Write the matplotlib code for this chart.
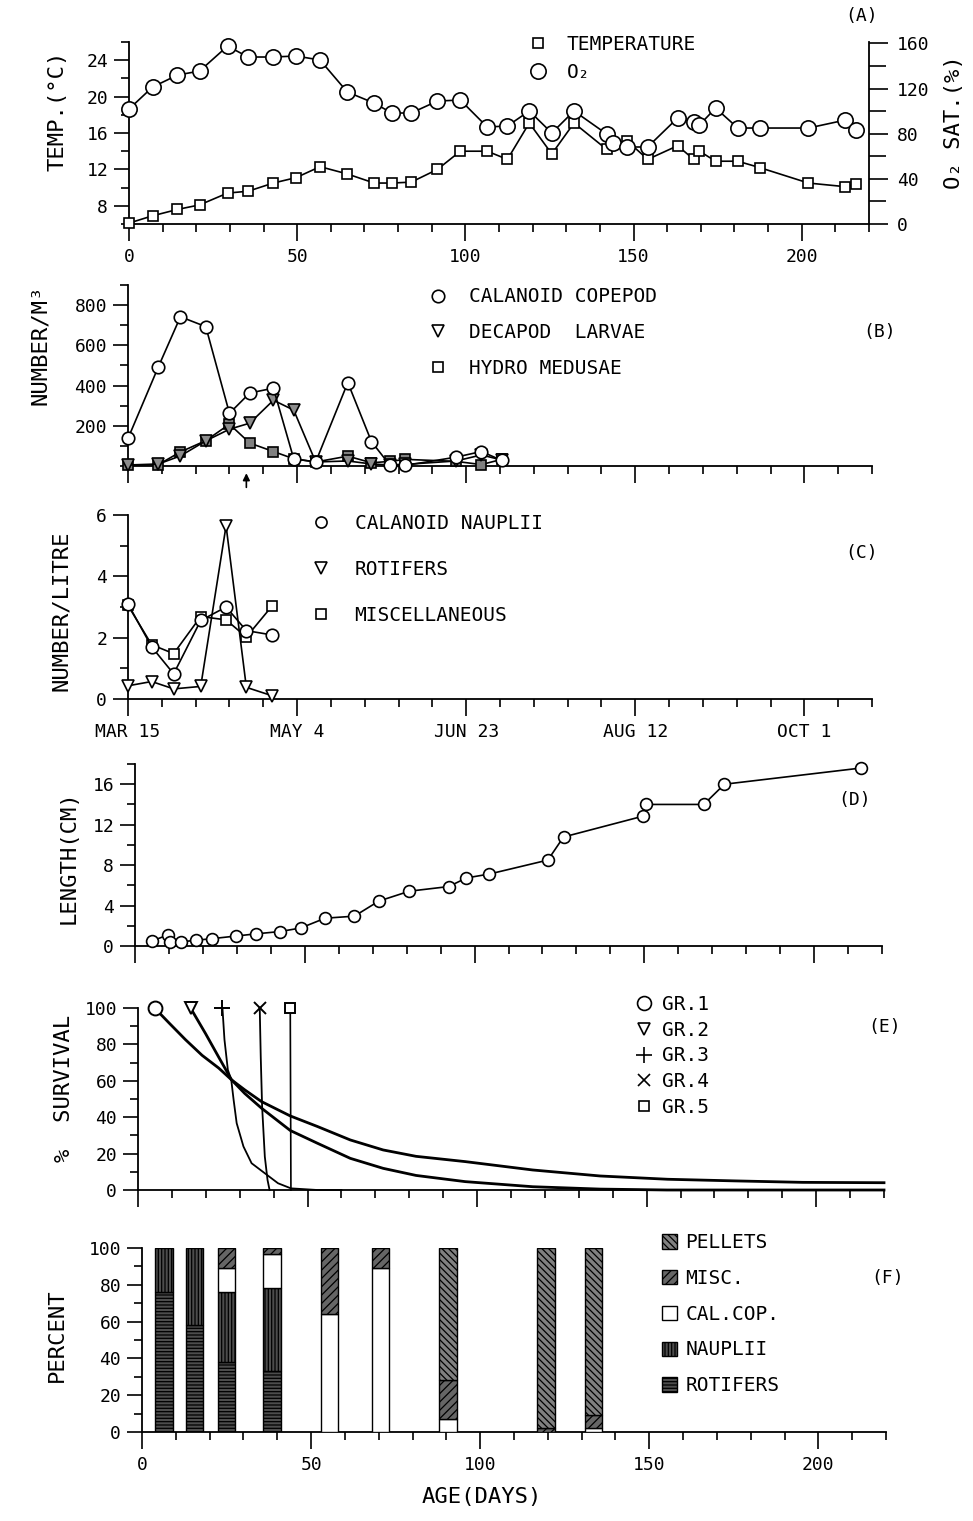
import numpy as np
import matplotlib
matplotlib.use('Agg')
import matplotlib.pyplot as plt
from matplotlib.ticker import MultipleLocator, FixedLocator
from matplotlib.patches import Patch
from matplotlib.lines import Line2D

plt.rcParams['font.family'] = ['DejaVu Sans Mono', 'DejaVu Sans']
plt.rcParams['hatch.linewidth'] = 0.9
plt.rcParams['axes.linewidth'] = 1.3

# ---------------- DATA ----------------
# (A) temperature and O2 saturation
a_days = [0, 7, 14.4, 21, 29.3, 35.4, 42.9, 49.7, 56.8, 64.9, 72.9, 78.1, 83.9, 91.7,
          98.5, 106.5, 112.5, 119, 125.7, 132.3, 142, 144, 148.2, 154.2, 163.1, 167.9,
          169.6, 174.4, 181, 187.5, 202, 213, 216]
a_temp = [6.1, 6.9, 7.6, 8.1, 9.4, 9.6, 10.5, 11.1, 12.3, 11.5, 10.5, 10.5, 10.6, 12.0,
          14.0, 14.0, 13.1, 17.1, 13.7, 17.1, 14.2, 14.9, 15.1, 13.1, 14.6, 13.1,
          14.0, 12.9, 12.9, 12.2, 10.5, 10.1, 10.4]
a_o2 = [101.8, 121.3, 131.9, 135.5, 157.6, 147.9, 147.9, 148.8, 145.2, 116.9, 107.1, 98.3,
        98.3, 108.9, 109.8, 85.9, 86.8, 100.1, 80.6, 100.1, 79.7, 71.7, 68.2, 68.2, 93.9,
        90.3, 87.7, 102.7, 85.0, 85.0, 85.0, 92.1, 83.2]

# (B) zooplankton number / m3
b_days = [0, 9, 15.5, 23, 30, 36, 43, 49, 55.5, 65, 72, 77.5, 82, 97, 104.5, 110.5]
b_copepod = [137, 494, 742, 693, 262, 363, 387, 36, 20, 415, 121, 3, 3, 44, 72, 28]
b_decapod = [5, 10, 50, 125, 183, 213, 327, 278, 20, 25, 10, 5, 8, 25, 55, 30]
b_hydro = [3, 7, 70, 126, 208, 114, 72, 36, 20, 49, 16, 23, 33, 23, 7, 33]
b_arrow_day = 35

# (C) number / litre
c_days = [0, 7, 13.5, 21.5, 29, 35, 42.5]
c_nauplii = [3.1, 1.7, 0.82, 2.56, 3.0, 2.23, 2.09]
c_rotifers = [0.43, 0.57, 0.33, 0.41, 5.65, 0.38, 0.11]
c_misc = [3.05, 1.77, 1.48, 2.69, 2.58, 2.02, 3.02]
c_date_labels = ['MAR 15', 'MAY 4', 'JUN 23', 'AUG 12', 'OCT 1']

# (D) length (cm)
d_days = [4.9, 9.7, 10.2, 13.6, 18, 22.8, 29.6, 35.6, 42.7, 48.8, 56, 64.6, 71.8, 80.8,
          92.4, 97.6, 104.4, 121.6, 126.2, 149.6, 150.6, 167.5, 173.6, 213.8]
d_length = [0.48, 1.1, 0.41, 0.41, 0.57, 0.73, 0.98, 1.2, 1.43, 1.78, 2.75, 2.95, 4.44,
            5.42, 5.88, 6.73, 7.12, 8.5, 10.78, 12.84, 14.0, 14.0, 16.0, 17.6]

# (E) % survival of groups
e_gr1_days = [4.9, 9.2, 14, 18.9, 23.8, 27.6, 31.5, 36.4, 44.9, 52.9, 62.6, 72.3, 82,
              96.5, 116.4, 136.3, 156.2, 176.1, 196, 220]
e_gr1_pct = [100, 91.7, 82.6, 74, 67, 60.5, 55, 48.6, 40.7, 34.9, 27.5, 22, 18.5,
             15.6, 11, 7.7, 5.9, 5, 4.2, 4]
e_gr2_days = [15.5, 19.9, 23.8, 27.6, 31.5, 36.4, 44.9, 52.9, 62.6, 72.3, 82, 96.5,
              116.4, 136.3, 156, 220]
e_gr2_pct = [100, 86, 73, 60.5, 53, 45, 32.7, 25.7, 17.4, 11.9, 8, 4.6, 1.8, 0.5, 0, 0]
e_gr3_days = [24.9, 25.5, 26.5, 27.5, 28.2, 29.1, 31.1, 33.5, 37.4, 41.3, 45.1, 52.9, 60]
e_gr3_pct = [100, 82.6, 66, 60.5, 49.5, 36.7, 23.9, 14.7, 9.2, 3.7, 0.9, 0, 0]
e_gr4_days = [35.9, 36.2, 36.6, 37.4, 38.2, 38.8]
e_gr4_pct = [100, 73, 45.9, 18.3, 5.5, 0]
e_gr5_days = [44.9, 45.1]
e_gr5_pct = [100, 0]

# (F) stomach contents, percent
f_days = [6.5, 15.5, 25, 38.5, 55.5, 70.5, 90.5, 119.5, 133.5]
f_rotifers = [76, 58, 38, 33, 0, 0, 0, 0, 0]
f_nauplii = [24, 42, 38, 45, 0, 0, 0, 0, 0]
f_calcop = [0, 0, 13, 19, 64, 89, 7, 0, 2]
f_misc = [0, 0, 11, 3, 36, 11, 21, 2, 7]
f_pellets = [0, 0, 0, 0, 0, 0, 72, 98, 91]

# ---------------- LAYOUT ----------------
W, H = 973, 1521
fig = plt.figure(figsize=(W / 100, H / 100), dpi=100)
FS = 13      # tick labels
FSG = 14     # legend text
FSL = 16     # axis labels


def add_ax(left, right, top, bottom):
    return fig.add_axes([left / W, 1 - bottom / H, (right - left) / W, (bottom - top) / H])


def style_x(ax, labels=None):
    ax.set_xlim(0, 220)
    ax.xaxis.set_major_locator(FixedLocator([0, 50, 100, 150, 200]))
    ax.xaxis.set_minor_locator(MultipleLocator(10))
    ax.tick_params(axis='x', which='major', length=12, width=1.2, direction='out',
                   pad=5, labelsize=FS)
    ax.tick_params(axis='x', which='minor', length=6, width=1.2, direction='out')
    if labels is None:
        ax.set_xticklabels([])
    else:
        ax.set_xticklabels(labels)
    for s in ['top', 'right']:
        ax.spines[s].set_visible(False)


def style_y(ax, major, minor, lim):
    ax.set_ylim(*lim)
    ax.yaxis.set_major_locator(FixedLocator(major))
    ax.yaxis.set_minor_locator(MultipleLocator(minor))
    ax.tick_params(axis='y', which='major', length=11, width=1.2, direction='out',
                   pad=4, labelsize=FS)
    ax.tick_params(axis='y', which='minor', length=6, width=1.2, direction='out')


def panel_label(x, y, s):
    fig.text(x / W, 1 - y / H, s, ha='center', va='center', fontsize=FS)


def leg(ax, handles, labels, x, y, ls, htp, hl=1.0, hh=0.7):
    ax.legend(handles, labels, loc='upper left', bbox_to_anchor=(x, y), frameon=False,
              fontsize=FSG, handlelength=hl, handleheight=hh, handletextpad=htp,
              labelspacing=ls, borderpad=0, borderaxespad=0)


def mh(m, ms):
    return Line2D([], [], ls='none', marker=m, ms=ms, mfc='white', mec='k', mew=1.2)


mk = dict(color='k', lw=1.2, mfc='white', mec='k', mew=1.2, clip_on=False)

# ---- (A) ----
axA = add_ax(129, 869, 42, 224)
axA2 = axA.twinx()
style_x(axA, ['0', '50', '100', '150', '200'])
axA.spines['right'].set_visible(False)
style_y(axA, [8, 12, 16, 20, 24], 2, (6, 26))
axA.plot(a_days, a_temp, marker='s', ms=7, **mk, zorder=3)
axA2.set_ylim(0, 161.2)
axA2.yaxis.set_major_locator(FixedLocator([0, 40, 80, 120, 160]))
axA2.yaxis.set_minor_locator(MultipleLocator(20))
axA2.tick_params(axis='y', which='major', length=14, width=1.2, direction='out',
                 pad=6, labelsize=FS)
axA2.tick_params(axis='y', which='minor', length=12, width=1.2, direction='out')
for s in ['top', 'left', 'bottom']:
    axA2.spines[s].set_visible(False)
axA2.plot(a_days, a_o2, marker='o', ms=11, **mk, zorder=3)
axA.set_ylabel('TEMP.(°C)', fontsize=FSL)
axA.yaxis.set_label_coords(-0.083, 0.62)
axA2.set_ylabel('O₂ SAT.(%)', fontsize=FSL)
axA2.yaxis.set_label_coords(1.102, 0.56)
leg(axA2, [mh('s', 7), mh('o', 11)], ['TEMPERATURE', 'O₂'], 0.539, 1.037, 0.44, 1.0)
panel_label(862, 16, '(A)')

# ---- (B) ----
axB = add_ax(128, 872, 285, 466)
style_x(axB)
style_y(axB, [200, 400, 600, 800], 100, (0, 900))
axB.plot(b_days, b_hydro, marker='s', ms=6.5, **{**mk, 'mfc': '0.5'}, zorder=3)
axB.plot(b_days, b_decapod, marker='v', ms=8, **{**mk, 'mfc': '0.55'}, zorder=4)
axB.plot(b_days, b_copepod, marker='o', ms=9, **mk, zorder=5)
axB.annotate('', xy=(b_arrow_day, -22), xytext=(b_arrow_day, -120),
             arrowprops=dict(arrowstyle='-|>', color='k', lw=1.2, mutation_scale=10),
             annotation_clip=False)
axB.set_ylabel('NUMBER/M³', fontsize=FSL)
axB.yaxis.set_label_coords(-0.105, 0.67)
leg(axB, [mh('o', 9), mh('v', 8), mh('s', 6.5)],
    ['CALANOID COPEPOD', 'DECAPOD  LARVAE', 'HYDRO MEDUSAE'], 0.403, 0.987, 0.86, 1.1)
panel_label(880, 332, '(B)')

# ---- (C) ----
axC = add_ax(128, 872, 515, 699)
style_x(axC, c_date_labels)
style_y(axC, [0, 2, 4, 6], 1, (0, 6))
axC.plot(c_days, c_misc, marker='s', ms=7, **mk, zorder=3)
axC.plot(c_days, c_rotifers, marker='v', ms=8, **mk, zorder=4)
axC.plot(c_days, c_nauplii, marker='o', ms=9, **mk, zorder=5)
axC.set_ylabel('NUMBER/LITRE', fontsize=FSL)
axC.yaxis.set_label_coords(-0.076, 0.48)
leg(axC, [mh('o', 8), mh('v', 8), mh('s', 6.5)],
    ['CALANOID NAUPLII', 'ROTIFERS', 'MISCELLANEOUS'], 0.247, 1.004, 1.37, 1.2)
panel_label(862, 553, '(C)')

# ---- (D) ----
axD = add_ax(135, 882, 764, 946)
style_x(axD)
style_y(axD, [0, 4, 8, 12, 16], 2, (0, 18))
axD.plot(d_days, d_length, marker='o', ms=8.5, **mk, zorder=3)
axD.set_ylabel('LENGTH(CM)', fontsize=FSL)
axD.yaxis.set_label_coords(-0.075, 0.49)
panel_label(855, 800, '(D)')

# ---- (E) ----
axE = add_ax(138, 884, 1008, 1190)
style_x(axE)
style_y(axE, [0, 20, 40, 60, 80, 100], 10, (0, 100))
groups = [(e_gr1_days, e_gr1_pct, 'o', 2.0, 10),
          (e_gr2_days, e_gr2_pct, 'v', 2.0, 9),
          (e_gr3_days, e_gr3_pct, '+', 1.3, 11),
          (e_gr4_days, e_gr4_pct, 'x', 1.3, 8),
          (e_gr5_days, e_gr5_pct, 's', 1.2, 7)]
for dd, pp, m, lw, ms in groups:
    axE.plot(dd, pp, color='k', lw=lw, clip_on=False, zorder=3)
    axE.plot(dd[:1], pp[:1], ls='none', marker=m, ms=ms, mfc='white', mec='k', mew=1.4,
             clip_on=False, zorder=4)
axE.set_ylabel('%  SURVIVAL', fontsize=FSL)
axE.yaxis.set_label_coords(-0.086, 0.56)
leg(axE, [mh(m, ms) for _, _, m, _, ms in groups],
    ['GR.1', 'GR.2', 'GR.3', 'GR.4', 'GR.5'], 0.665, 1.07, 0.34, 0.45)
panel_label(885, 1027, '(E)')

# ---- (F) ----
axF = add_ax(142, 886, 1248, 1432)
style_x(axF, ['0', '50', '100', '150', '200'])
style_y(axF, [0, 20, 40, 60, 80, 100], 10, (0, 100))
cats = [('ROTIFERS', f_rotifers, '0.3', '-----'),
        ('NAUPLII', f_nauplii, '0.3', '|||||'),
        ('CAL.COP.', f_calcop, 'white', ''),
        ('MISC.', f_misc, '0.4', '////'),
        ('PELLETS', f_pellets, '0.5', '\\\\\\\\\\')]
bottom = np.zeros(len(f_days))
for name, vals, fc, ht in cats:
    vals = np.asarray(vals, dtype=float)
    sel = vals > 0
    axF.bar(np.asarray(f_days)[sel], vals[sel], width=5.2, bottom=bottom[sel],
            color=fc, hatch=ht, edgecolor='k', linewidth=1.0, zorder=3)
    bottom += vals
axF.set_ylabel('PERCENT', fontsize=FSL)
axF.yaxis.set_label_coords(-0.101, 0.527)
axF.set_xlabel('AGE(DAYS)', fontsize=FSL)
axF.xaxis.set_label_coords(0.457, -0.3)
leg(axF, [Patch(facecolor=fc, hatch=ht, edgecolor='k', linewidth=1.0)
          for _, _, fc, ht in cats[::-1]],
    [c[0] for c in cats[::-1]], 0.699, 1.08, 0.86, 0.45, hl=0.75, hh=0.75)
panel_label(888, 1278, '(F)')

fig.savefig('out.png', dpi=100)
